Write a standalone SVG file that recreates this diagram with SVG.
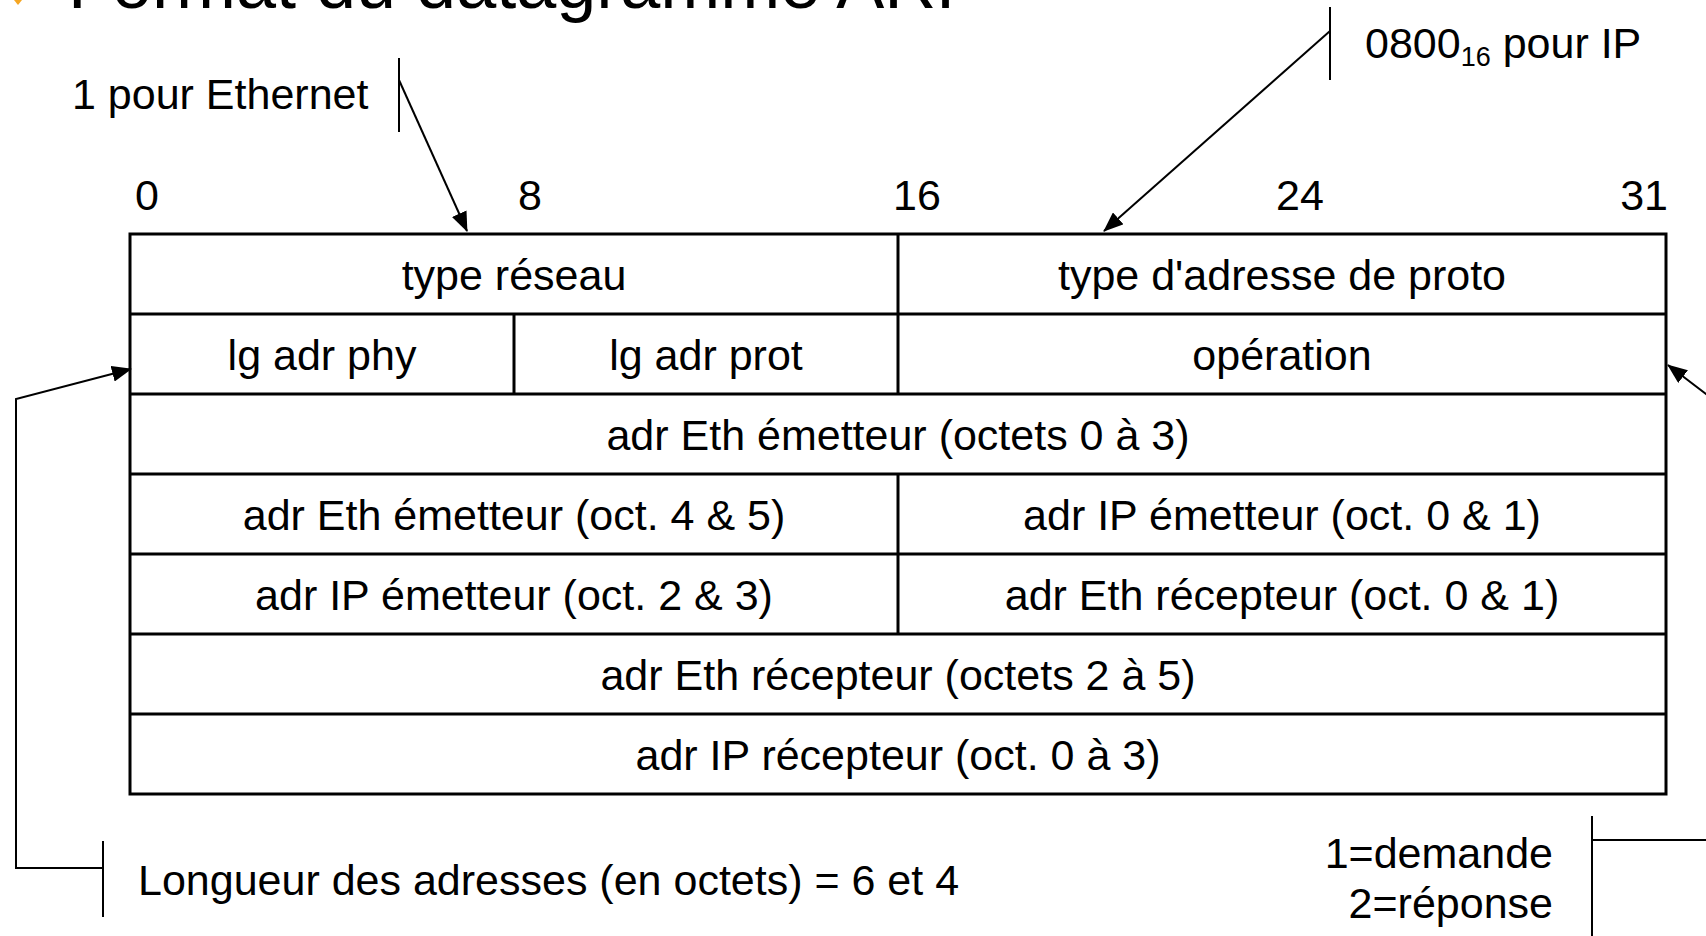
<svg xmlns="http://www.w3.org/2000/svg" width="1706" height="936" viewBox="0 0 1706 936">
<style>
text{font-family:"Liberation Sans",Arial,sans-serif;font-size:43px;fill:#000}
.c{text-anchor:middle}
.e{text-anchor:end}
.grid{stroke:#000;stroke-width:3;fill:none}
.conn{stroke:#000;stroke-width:2;fill:none}
</style>
<defs>
<marker id="ah" markerUnits="userSpaceOnUse" markerWidth="20" markerHeight="16" refX="19" refY="8" orient="auto">
<path d="M0,0 L20,8 L0,16 Z" fill="#000"/>
</marker>
</defs>
<rect width="1706" height="936" fill="#fff"/>
<g id="title">
<path d="M14,0 L22,0 L18,5 Z" fill="#f5a623"/>
<text x="68" y="8" style="font-size:72px">Format du datagramme ARP</text>
</g>
<g id="bits">
<text x="135" y="210">0</text>
<text x="518" y="210">8</text>
<text x="893" y="210">16</text>
<text x="1276" y="210">24</text>
<text x="1668" y="210" class="e">31</text>
</g>
<g id="table">
<rect class="grid" x="130" y="234" width="1536" height="560"/>
<path class="grid" d="M130,314H1666M130,394H1666M130,474H1666M130,554H1666M130,634H1666M130,714H1666M898,234V394M514,314V394M898,474V634"/>
</g>
<g id="f-type-reseau"><text class="c" x="514" y="290">type réseau</text></g>
<g id="f-type-proto"><text class="c" x="1282" y="290">type d'adresse de proto</text></g>
<g id="f-lg-phy"><text class="c" x="322" y="370">lg adr phy</text></g>
<g id="f-lg-prot"><text class="c" x="706" y="370">lg adr prot</text></g>
<g id="f-operation"><text class="c" x="1282" y="370">opération</text></g>
<g id="f-eth-em-1"><text class="c" x="898" y="450">adr Eth émetteur (octets 0 à 3)</text></g>
<g id="f-eth-em-2"><text class="c" x="514" y="530">adr Eth émetteur (oct. 4 &amp; 5)</text></g>
<g id="f-ip-em-1"><text class="c" x="1282" y="530">adr IP émetteur (oct. 0 &amp; 1)</text></g>
<g id="f-ip-em-2"><text class="c" x="514" y="610">adr IP émetteur (oct. 2 &amp; 3)</text></g>
<g id="f-eth-rc-1"><text class="c" x="1282" y="610">adr Eth récepteur (oct. 0 &amp; 1)</text></g>
<g id="f-eth-rc-2"><text class="c" x="898" y="690">adr Eth récepteur (octets 2 à 5)</text></g>
<g id="f-ip-rc"><text class="c" x="898" y="770">adr IP récepteur (oct. 0 à 3)</text></g>
<g id="note-ethernet"><text x="72" y="109">1 pour Ethernet</text></g>
<g id="note-ip"><text x="1365" y="58">0800<tspan style="font-size:27px" dy="8">16</tspan><tspan dy="-8"> pour IP</tspan></text></g>
<g id="note-longueur"><text x="138" y="895">Longueur des adresses (en octets) = 6 et 4</text></g>
<g id="note-operation"><text class="e" x="1553" y="868">1=demande</text><text class="e" x="1553" y="918">2=réponse</text></g>
<g id="connectors">
<path class="conn" d="M399,58V132"/>
<path class="conn" d="M399,80L467,231" marker-end="url(#ah)"/>
<path class="conn" d="M1330,7V80"/>
<path class="conn" d="M1330,31L1104,231" marker-end="url(#ah)"/>
<path class="conn" d="M103,841V917"/>
<path class="conn" d="M103,868H16V399L131,369" marker-end="url(#ah)"/>
<path class="conn" d="M1592,816V940"/>
<path class="conn" d="M1592,840H1740V420L1668,365" marker-end="url(#ah)"/>
</g>
</svg>
